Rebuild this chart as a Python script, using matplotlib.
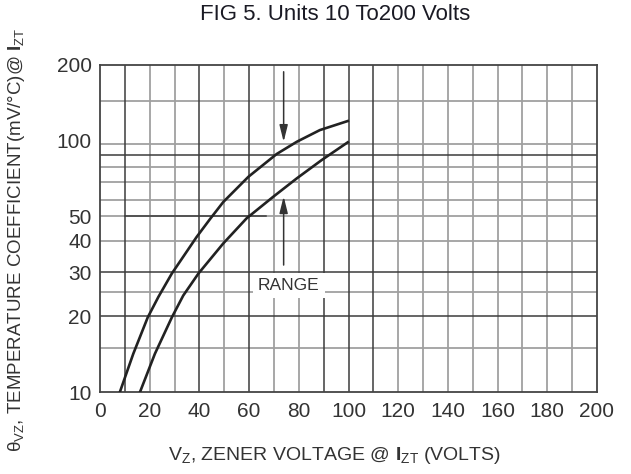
import matplotlib
matplotlib.use("Agg")
import matplotlib.pyplot as plt
from matplotlib.ticker import FixedLocator, FixedFormatter, NullLocator

plt.rcParams['font.family'] = ['Liberation Sans', 'DejaVu Sans']
plt.rcParams['mathtext.fontset'] = 'custom'
plt.rcParams['mathtext.rm'] = 'Liberation Sans'
plt.rcParams['mathtext.it'] = 'Liberation Sans:italic'
plt.rcParams['mathtext.bf'] = 'Liberation Sans:bold'

# ---- data ----
upper_v = [8.0, 13.4, 19.2, 23.5, 28.9, 38.9, 44.3, 49.6, 59.7, 71.1, 79.2, 88.5, 99.7]
upper_t = [10.0, 14.2, 19.8, 23.9, 29.6, 41.4, 48.8, 57.0, 71.8, 88.5, 99.0, 110.2, 119.7]
lower_v = [16.1, 22.1, 28.9, 33.5, 39.6, 49.6, 59.0, 69.7, 79.2, 89.2, 99.7]
lower_t = [10.0, 14.2, 19.8, 24.2, 29.6, 39.0, 49.1, 59.8, 70.8, 83.7, 98.5]

x_ticks = [0, 20, 40, 60, 80, 100, 120, 140, 160, 180, 200]
y_ticks = [10, 20, 30, 40, 50, 100, 200]

x_grid_dark = [10, 40, 60, 90, 100, 110]
x_grid_light = [20, 30, 50, 70, 80, 120, 130, 140, 150, 160, 170, 180, 190]
y_grid_dark = [20, 30, 87.6]
y_grid_light = [15, 25, 40, 50, 58.2, 68.5, 78.6, 97.3, 144]
y50_dark_span = (10, 67)

range_label = "RANGE"
range_pos = (76, 26.5)
arrow_down = (73.9, 188, 99)
arrow_up = (73.9, 32, 60)

title = "FIG 5. Units 10 To200 Volts"
ylabel = r"θ$_{\mathregular{VZ}}$, TEMPERATURE COEFFICIENT(mV/°C)@ $\mathbf{I}_{\mathregular{ZT}}$"
xlabel = r"V$_{\mathregular{Z}}$, ZENER VOLTAGE @ $\mathbf{I}_{\mathregular{ZT}}$ (VOLTS)"

W, H = 631, 474
fig = plt.figure(figsize=(W / 100, H / 100), dpi=100)
ax = fig.add_axes([100 / W, 1 - 392 / H, 497 / W, 327 / H])
ax.set_yscale('log')
ax.set_xlim(0, 200)
ax.set_ylim(10, 200)

dark = '#3c3c3c'
light = '#a0a0a0'
for v in x_grid_light:
    ax.axvline(v, color=light, lw=1.3, zorder=1)
for v in x_grid_dark:
    ax.axvline(v, color=dark, lw=1.1, zorder=1.2)
for v in y_grid_light:
    ax.axhline(v, color=light, lw=1.3, zorder=1)
for v in y_grid_dark:
    ax.axhline(v, color=dark, lw=1.1, zorder=1.2)
ax.plot(list(y50_dark_span), [50, 50], color=dark, lw=1.1, zorder=1.3)

ax.plot(upper_v, upper_t, color='#222222', lw=1.9, zorder=3, solid_joinstyle='round')
ax.plot(lower_v, lower_t, color='#222222', lw=1.9, zorder=3, solid_joinstyle='round')

ax.xaxis.set_major_locator(FixedLocator(x_ticks))
ax.xaxis.set_major_formatter(FixedFormatter([str(t) for t in x_ticks]))
ax.yaxis.set_major_locator(FixedLocator(y_ticks))
ax.yaxis.set_major_formatter(FixedFormatter([str(t) for t in y_ticks]))
ax.yaxis.set_minor_locator(NullLocator())
ax.xaxis.set_minor_locator(NullLocator())
ax.tick_params(axis='both', length=0, labelsize=15, colors='#333333')
ax.tick_params(axis='x', pad=7.5)
ax.tick_params(axis='y', pad=6)
for s in ax.spines.values():
    s.set_color('#444444')
    s.set_linewidth(1.3)

ax.text(range_pos[0], range_pos[1], range_label, fontsize=12.5, color='#333333',
        ha='center', va='center', zorder=4,
        bbox=dict(facecolor='white', edgecolor='none', pad=3.5))

for (xv, y0, y1) in (arrow_down, arrow_up):
    ax.annotate('', xy=(xv, y1), xytext=(xv, y0),
                arrowprops=dict(arrowstyle='-|>,head_length=1.0,head_width=0.25',
                                color='#333333', lw=1.1, mutation_scale=10,
                                shrinkA=0, shrinkB=0), zorder=4)

fig.text(335 / W, 1 - 20.5 / H, title, fontsize=16, color='#1a1a24',
         ha='center', va='baseline')
fig.text(335 / W, 1 - 455 / H, xlabel, fontsize=14, color='#333333',
         ha='center', va='center')
fig.text(17 / W, 1 - 240 / H, ylabel, fontsize=13.5, color='#333333',
         ha='center', va='center', rotation=90)

fig.savefig('out.png', dpi=100)
